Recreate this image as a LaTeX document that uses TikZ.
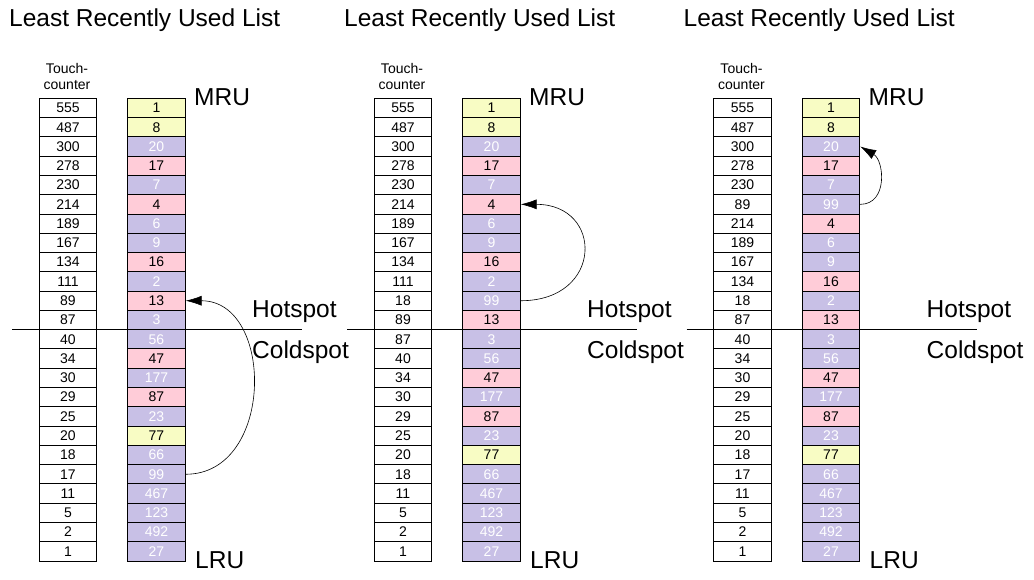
\documentclass[tikz,border=0pt]{standalone}
\usepackage{fontspec}
\setmainfont{Liberation Sans}
\usepackage{tikz}
\usetikzlibrary{arrows.meta,positioning}

\definecolor{lruyellow}{HTML}{F8FCC4}
\definecolor{lrupurple}{HTML}{C8C0E6}
\definecolor{lrupink}{HTML}{FFCCD8}

\tikzset{
  cell/.style={draw,rectangle,minimum width=57.5pt,minimum height=19.28pt,inner sep=0pt,line width=0.9pt,font=\fontsize{14}{16}\selectfont},
  cellW/.style={cell,fill=white},
  cellY/.style={cell,fill=lruyellow},
  cellP/.style={cell,fill=lrupurple,text=white},
  cellR/.style={cell,fill=lrupink},
  biglabel/.style={anchor=base west,inner sep=0pt,font=\fontsize{24.5}{28}\selectfont},
  movearrow/.style={line width=0.6pt,-{Latex[length=16pt,width=10pt]}}
}

\begin{document}
\begin{tikzpicture}[x=1pt,y=-1pt]
  \useasboundingbox (0,0) rectangle (1034,580);
  % Three snapshots of the list: touch-counters and blocks
  \foreach \p/\dx/\touch/\order in {
    1/0/{555,487,300,278,230,214,189,167,134,111,89,87,40,34,30,29,25,20,18,17,11,5,2,1}/{1/Y,8/Y,20/P,17/R,7/P,4/R,6/P,9/P,16/R,2/P,13/R,3/P,56/P,47/R,177/P,87/R,23/P,77/Y,66/P,99/P,467/P,123/P,492/P,27/P},
    2/335/{555,487,300,278,230,214,189,167,134,111,18,89,87,40,34,30,29,25,20,18,11,5,2,1}/{1/Y,8/Y,20/P,17/R,7/P,4/R,6/P,9/P,16/R,2/P,99/P,13/R,3/P,56/P,47/R,177/P,87/R,23/P,77/Y,66/P,467/P,123/P,492/P,27/P},
    3/674.5/{555,487,300,278,230,89,214,189,167,134,18,87,40,34,30,29,25,20,18,17,11,5,2,1}/{1/Y,8/Y,20/P,17/R,7/P,99/P,4/R,6/P,9/P,16/R,2/P,13/R,3/P,56/P,47/R,177/P,87/R,23/P,77/Y,66/P,467/P,123/P,492/P,27/P}} {
    \node[biglabel] (title\p) at (9+\dx,27) {Least Recently Used List};
    \node[align=center,inner sep=0pt,font=\fontsize{14}{16}\selectfont] (tc\p) at (67+\dx,76) {Touch-\\counter};
    \foreach \v [count=\i] in \touch
      \node[cellW] (t\p-\i) at (68+\dx,98.3+\i*19.28-9.64) {\v};
    \foreach \v/\s [count=\i] in \order
      \node[cell\s] (l\p-\i) at (156.5+\dx,98.3+\i*19.28-9.64) {\v};
    % Hot / cold boundary
    \draw[line width=0.9pt] (12+\dx,329.7) -- (302+\dx,329.7);
    \node[biglabel] (mru\p) at (194+\dx,106) {MRU};
    \node[biglabel] (lru\p) at (195+\dx,568) {LRU};
    \node[biglabel] (hot\p) at (252+\dx,317) {Hotspot};
    \node[biglabel] (cold\p) at (252+\dx,358) {Coldspot};
  }
  % Moves of block 99
  \draw[movearrow] (l1-20.east) .. controls +(89,0) and +(89,0) .. (l1-11.east);
  \draw[movearrow] (l2-11.east) .. controls +(83,0) and +(83,0) .. (l2-6.east);
  \draw[movearrow] (l3-6.east) .. controls +(28,0) and +(24,14) .. (l3-3.east);
\end{tikzpicture}
\end{document}
